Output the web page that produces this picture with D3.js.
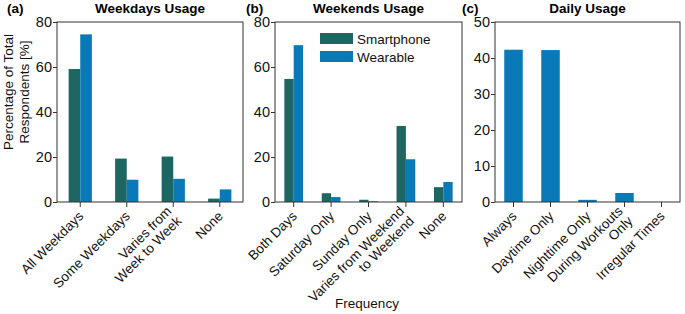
<!DOCTYPE html>
<html>
<head>
<meta charset="utf-8">
<script src="https://cdn.jsdelivr.net/npm/d3@7"></script>
<style>
  body { margin: 0; background: #fff; }
  svg { font-family: "Liberation Sans", Arial, sans-serif; }
  .axis path, .axis line { stroke: #333; }
</style>
</head>
<body>
<div id="container"></div>
<script>
/* CONSTANTS AND GLOBALS */
const width = 685,
    height = 314,
    plotTop = 22,
    plotBottom = 202;

const series = ["Smartphone", "Wearable"];
const colors = ["#1e6662", "#0a79b7"];

// panel a
const weekdayCats = ["All Weekdays", "Some Weekdays", "Varies from\nWeek to Week", "None"];
const weekdaySmartphone = [59.1, 19.3, 20.2, 1.5];
const weekdayWearable = [74.5, 9.9, 10.3, 5.6];

// panel b
const weekendCats = ["Both Days", "Saturday Only", "Sunday Only", "Varies from Weekend\nto Weekend", "None"];
const weekendSmartphone = [54.7, 3.9, 1.0, 33.8, 6.6];
const weekendWearable = [69.7, 2.2, 0.3, 19.0, 8.9];

// panel c
const dailyCats = ["Always", "Daytime Only", "Nighttime Only", "During Workouts\nOnly", "Irregular Times"];
const dailyWearable = [42.3, 42.2, 0.6, 2.5, 0];

const svg = d3.select("#container")
    .append("svg")
    .attr("width", width)
    .attr("height", height)

function panel(opts) {
    const g = svg.append("g")
    const xScale = d3.scaleBand()
        .domain(opts.cats)
        .range([opts.left, opts.right])
        .padding(0)
    const yScale = d3.scaleLinear()
        .domain([0, opts.max])
        .range([plotBottom, plotTop])

    const groupW = xScale.bandwidth() * 0.5
    const x1 = d3.scaleBand()
        .domain(opts.series.map(s => s.name))
        .range([0, groupW])

    // bars
    opts.series.forEach(s => {
        g.selectAll(null)
            .data(opts.cats.map((c, i) => ({ cat: c, v: s.values[i] })))
            .join("rect")
            .attr("x", d => xScale(d.cat) + xScale.bandwidth() / 2 - groupW / 2 + x1(s.name))
            .attr("width", x1.bandwidth())
            .attr("y", d => yScale(d.v))
            .attr("height", d => plotBottom - yScale(d.v))
            .attr("fill", s.color)
    })

    // frame
    g.append("rect")
        .attr("x", opts.left)
        .attr("y", plotTop)
        .attr("width", opts.right - opts.left)
        .attr("height", plotBottom - plotTop)
        .attr("fill", "none")
        .attr("stroke", "#333")
        .attr("stroke-width", 1)

    // Y AXIS
    const yAxis = d3.axisLeft(yScale).tickValues(d3.range(0, opts.max + 1, opts.step)).tickSize(4).tickPadding(1)
    g.append("g")
        .attr("class", "axis")
        .attr("transform", `translate(${opts.left},0)`)
        .call(yAxis)
        .call(a => a.select(".domain").remove())
        .selectAll("text")
        .attr("font-size", 14.5)
        .attr("fill", "#111")

    // X AXIS
    const xAxis = d3.axisBottom(xScale).tickSize(5).tickFormat("")
    g.append("g")
        .attr("class", "axis")
        .attr("transform", `translate(0,${plotBottom})`)
        .call(xAxis)
        .call(a => a.select(".domain").remove())

    // rotated category labels, right aligned at the tick
    opts.cats.forEach(c => {
        const lines = c.split("\n")
        const lg = g.append("g")
            .attr("transform", `translate(${xScale(c) + xScale.bandwidth() / 2 + 4},${plotBottom + 15}) rotate(-45)`)
        lines.forEach((l, i) => lg.append("text")
            .attr("font-size", 13.5)
            .attr("fill", "#111")
            .attr("text-anchor", "end")
            .attr("y", (i - (lines.length - 1) / 2) * 14)
            .text(l))
    })

    // title
    svg.append("text")
        .attr("x", (opts.left + opts.right) / 2)
        .attr("y", 13)
        .attr("text-anchor", "middle")
        .attr("font-weight", "bold")
        .attr("font-size", 13.5)
        .text(opts.title)
    svg.append("text")
        .attr("x", opts.tagX)
        .attr("y", 13)
        .attr("font-weight", "bold")
        .attr("font-size", 13.5)
        .text(opts.tag)
}

panel({
    left: 57, right: 243, max: 80, step: 20,
    cats: weekdayCats, title: "Weekdays Usage", tag: "(a)", tagX: 7,
    series: [
        { name: series[0], values: weekdaySmartphone, color: colors[0] },
        { name: series[1], values: weekdayWearable, color: colors[1] }
    ]
})

panel({
    left: 275, right: 462, max: 80, step: 20,
    cats: weekendCats, title: "Weekends Usage", tag: "(b)", tagX: 246,
    series: [
        { name: series[0], values: weekendSmartphone, color: colors[0] },
        { name: series[1], values: weekendWearable, color: colors[1] }
    ]
})

panel({
    left: 495, right: 680, max: 50, step: 10,
    cats: dailyCats, title: "Daily Usage", tag: "(c)", tagX: 462,
    series: [
        { name: series[1], values: dailyWearable, color: colors[1] }
    ]
})

//LABEL THE Y-AXIS
const yLab = svg.append("text")
    .attr("transform", "translate(13,92) rotate(-90)")
    .attr("text-anchor", "middle")
    .attr("font-size", 13.5)
    .attr("fill", "#111")
yLab.append("tspan").attr("x", 0).attr("y", 0).text("Percentage of Total")
yLab.append("tspan").attr("x", 0).attr("y", 16).text("Respondents [%]")

//LABEL THE X-AXIS
svg.append("text")
    .attr("x", 367)
    .attr("y", 308)
    .attr("text-anchor", "middle")
    .attr("font-size", 13.5)
    .attr("fill", "#111")
    .text("Frequency")

//CREATE A LEGEND
const legend = svg.append("g")
    .selectAll("g")
    .data(series)
    .join("g")
    .attr("transform", (d, i) => `translate(320,${33 + i * 18})`)
legend.append("rect")
    .attr("width", 33)
    .attr("height", 11)
    .attr("fill", (d, i) => colors[i])
legend.append("text")
    .attr("x", 37)
    .attr("y", 10.5)
    .attr("font-size", 13.5)
    .attr("fill", "#111")
    .text(d => d)
</script>
</body>
</html>
